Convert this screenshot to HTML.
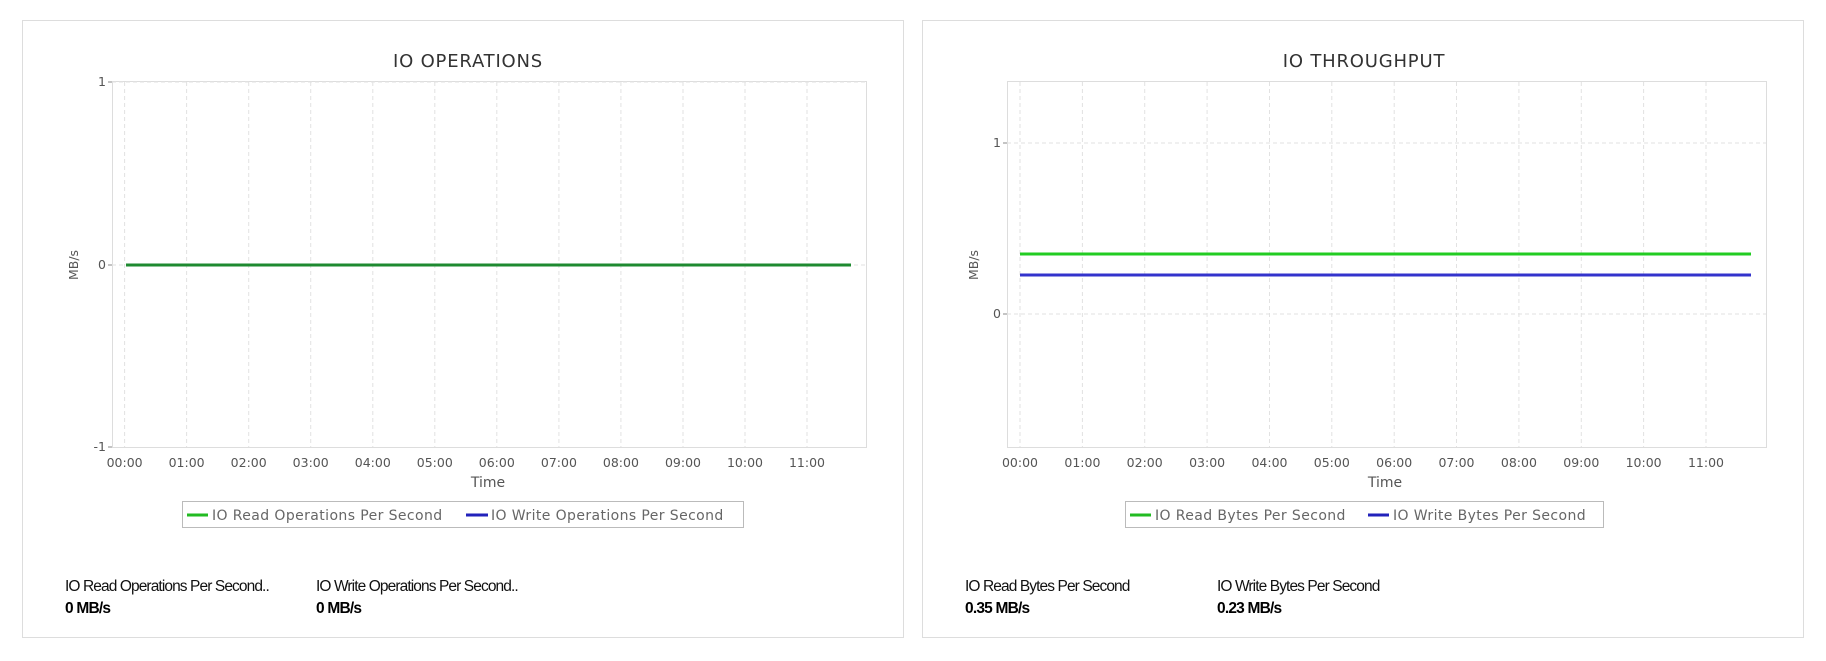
<!DOCTYPE html>
<html><head><meta charset="utf-8"><style>
html,body{margin:0;padding:0;background:#fff;}
svg{display:block;}
.t{font-family:"DejaVu Sans","Liberation Sans",sans-serif;fill:#555;font-size:12.5px;}
.lg{font-family:"DejaVu Sans","Liberation Sans",sans-serif;fill:#666;font-size:14px;letter-spacing:0.4px;}
.ttl{font-family:"DejaVu Sans","Liberation Sans",sans-serif;fill:#333;font-size:18px;letter-spacing:0.8px;}
.bl{font-family:"Liberation Sans Narrow","Liberation Sans",sans-serif;fill:#111;font-size:15.5px;letter-spacing:-0.9px;}
.bv{font-family:"Liberation Sans Narrow","Liberation Sans",sans-serif;fill:#000;font-size:15.5px;font-weight:bold;letter-spacing:-0.8px;}
</style></head><body>
<svg width="1826" height="661" xmlns="http://www.w3.org/2000/svg">
<!-- Left panel -->
<rect x="22.5" y="20.5" width="881" height="617" fill="#fff" stroke="#ddd"/>
<text class="ttl" x="468" y="67" text-anchor="middle">IO OPERATIONS</text>
<rect x="112.5" y="81.5" width="754" height="366" fill="#fff" stroke="#ddd"/>
<g stroke="#e2e2e2" stroke-dasharray="4,3">
<line x1="124.6" y1="82" x2="124.6" y2="447"/><line x1="186.6" y1="82" x2="186.6" y2="447"/><line x1="248.7" y1="82" x2="248.7" y2="447"/><line x1="310.7" y1="82" x2="310.7" y2="447"/><line x1="372.8" y1="82" x2="372.8" y2="447"/><line x1="434.8" y1="82" x2="434.8" y2="447"/><line x1="496.8" y1="82" x2="496.8" y2="447"/><line x1="558.9" y1="82" x2="558.9" y2="447"/><line x1="620.9" y1="82" x2="620.9" y2="447"/><line x1="683" y1="82" x2="683" y2="447"/><line x1="745" y1="82" x2="745" y2="447"/><line x1="807" y1="82" x2="807" y2="447"/>
<line x1="112" y1="82" x2="866" y2="82"/><line x1="112" y1="265" x2="866" y2="265"/>
</g>
<g stroke="#888"><line x1="108" y1="82" x2="112" y2="82"/><line x1="108" y1="265" x2="112" y2="265"/><line x1="108" y1="447" x2="112" y2="447"/></g>
<g class="t" text-anchor="end"><text x="106" y="86">1</text><text x="106" y="269">0</text><text x="106" y="451">-1</text></g>
<text class="t" transform="translate(78,265) rotate(-90)" text-anchor="middle">MB/s</text>
<g class="t" text-anchor="middle">
<text x="124.6" y="467">00:00</text><text x="186.6" y="467">01:00</text><text x="248.7" y="467">02:00</text><text x="310.7" y="467">03:00</text><text x="372.8" y="467">04:00</text><text x="434.8" y="467">05:00</text><text x="496.8" y="467">06:00</text><text x="558.9" y="467">07:00</text><text x="620.9" y="467">08:00</text><text x="683" y="467">09:00</text><text x="745" y="467">10:00</text><text x="807" y="467">11:00</text>
<text x="488" y="487" style="font-size:14px">Time</text></g>
<line x1="126" y1="265" x2="851" y2="265" stroke="#1e8a30" stroke-width="3"/>
<rect x="182.5" y="501.5" width="561" height="26" fill="#fff" stroke="#bbb"/>
<line x1="187" y1="515" x2="208" y2="515" stroke="#22bb22" stroke-width="3"/>
<text class="lg" x="212" y="520">IO Read Operations Per Second</text>
<line x1="466" y1="515" x2="488" y2="515" stroke="#2222bb" stroke-width="3"/>
<text class="lg" x="491" y="520">IO Write Operations Per Second</text>
<text class="bl" x="65" y="591">IO Read Operations Per Second..</text>
<text class="bv" x="65" y="613">0 MB/s</text>
<text class="bl" x="316" y="591">IO Write Operations Per Second..</text>
<text class="bv" x="316" y="613">0 MB/s</text>

<!-- Right panel -->
<rect x="922.5" y="20.5" width="881" height="617" fill="#fff" stroke="#ddd"/>
<text class="ttl" x="1364" y="67" text-anchor="middle">IO THROUGHPUT</text>
<rect x="1007.5" y="81.5" width="759" height="366" fill="#fff" stroke="#ddd"/>
<g stroke="#e2e2e2" stroke-dasharray="4,3">
<line x1="1020" y1="82" x2="1020" y2="447"/><line x1="1082.4" y1="82" x2="1082.4" y2="447"/><line x1="1144.7" y1="82" x2="1144.7" y2="447"/><line x1="1207.1" y1="82" x2="1207.1" y2="447"/><line x1="1269.5" y1="82" x2="1269.5" y2="447"/><line x1="1331.8" y1="82" x2="1331.8" y2="447"/><line x1="1394.2" y1="82" x2="1394.2" y2="447"/><line x1="1456.5" y1="82" x2="1456.5" y2="447"/><line x1="1518.9" y1="82" x2="1518.9" y2="447"/><line x1="1581.3" y1="82" x2="1581.3" y2="447"/><line x1="1643.6" y1="82" x2="1643.6" y2="447"/><line x1="1706" y1="82" x2="1706" y2="447"/>
<line x1="1007" y1="143" x2="1766" y2="143"/><line x1="1007" y1="314" x2="1766" y2="314"/>
</g>
<g stroke="#888"><line x1="1003" y1="143" x2="1007" y2="143"/><line x1="1003" y1="314" x2="1007" y2="314"/></g>
<g class="t" text-anchor="end"><text x="1001" y="147">1</text><text x="1001" y="318">0</text></g>
<text class="t" transform="translate(978,265) rotate(-90)" text-anchor="middle">MB/s</text>
<g class="t" text-anchor="middle">
<text x="1020" y="467">00:00</text><text x="1082.4" y="467">01:00</text><text x="1144.7" y="467">02:00</text><text x="1207.1" y="467">03:00</text><text x="1269.5" y="467">04:00</text><text x="1331.8" y="467">05:00</text><text x="1394.2" y="467">06:00</text><text x="1456.5" y="467">07:00</text><text x="1518.9" y="467">08:00</text><text x="1581.3" y="467">09:00</text><text x="1643.6" y="467">10:00</text><text x="1706" y="467">11:00</text>
<text x="1385" y="487" style="font-size:14px">Time</text></g>
<line x1="1020" y1="254" x2="1751" y2="254" stroke="#22cc22" stroke-width="3"/>
<line x1="1020" y1="275" x2="1751" y2="275" stroke="#3333cc" stroke-width="3"/>
<rect x="1125.5" y="501.5" width="478" height="26" fill="#fff" stroke="#bbb"/>
<line x1="1130" y1="515" x2="1151" y2="515" stroke="#22bb22" stroke-width="3"/>
<text class="lg" x="1155" y="520">IO Read Bytes Per Second</text>
<line x1="1368" y1="515" x2="1389" y2="515" stroke="#2222bb" stroke-width="3"/>
<text class="lg" x="1393" y="520">IO Write Bytes Per Second</text>
<text class="bl" x="965" y="591">IO Read Bytes Per Second</text>
<text class="bv" x="965" y="613">0.35 MB/s</text>
<text class="bl" x="1217" y="591">IO Write Bytes Per Second</text>
<text class="bv" x="1217" y="613">0.23 MB/s</text>
</svg>
</body></html>
